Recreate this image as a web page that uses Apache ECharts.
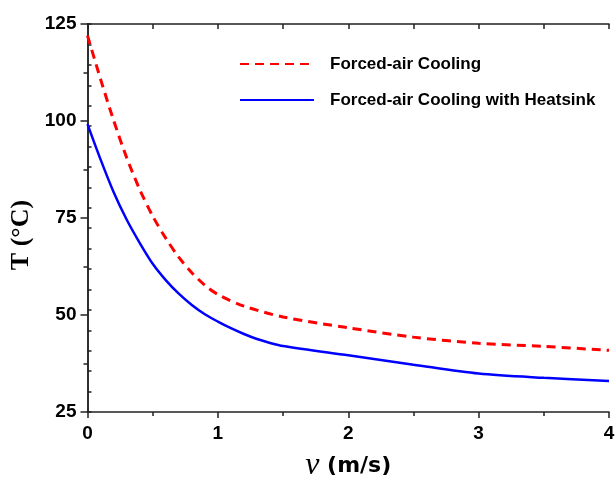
<!DOCTYPE html>
<html>
<head>
<meta charset="utf-8">
<script src="https://cdn.jsdelivr.net/npm/echarts@6/dist/echarts.min.js"></script>
<style>
html,body{margin:0;padding:0;background:#fff;}
#chart{width:615px;height:480px;}
</style>
</head>
<body>
<div id="chart"></div>
<script>
var seriesNames = ['Forced-air Cooling', 'Forced-air Cooling with Heatsink'];
var vForced = [0, 0.1, 0.2, 0.3, 0.4, 0.5, 0.6, 0.7, 0.8, 0.9, 1.0, 1.2, 1.5, 2.0, 2.5, 3.0, 3.5, 4.0];
var tForced = [122, 110.8, 100.2, 90.6, 82.4, 75.5, 69.8, 64.9, 60.9, 57.7, 55.3, 52.3, 49.5, 46.7, 44.3, 42.7, 41.9, 40.9];
var vHeatsink = [0, 0.1, 0.2, 0.3, 0.4, 0.5, 0.6, 0.7, 0.8, 0.9, 1.0, 1.1, 1.2, 1.3, 1.4, 1.5, 2.0, 2.5, 3.0, 3.5, 4.0];
var tHeatsink = [99.2, 90.1, 81.7, 74.6, 68.6, 63.2, 59.0, 55.5, 52.6, 50.2, 48.3, 46.6, 45.1, 43.8, 42.8, 42.0, 39.6, 37.2, 34.9, 33.8, 33.0];
var xTicks = [0, 1, 2, 3, 4];
var yTicks = [25, 50, 75, 100, 125];

function pairs(xs, ys) { return xs.map(function (x, i) { return [x, ys[i]]; }); }

var axisColor = '#222';
var chart = echarts.init(document.getElementById('chart'), null, {renderer: 'canvas'});
chart.setOption({
  animation: false,
  backgroundColor: '#fff',
  grid: {left: 87.5, right: 6, top: 24, bottom: 68, containLabel: false, outerBoundsMode: 'none'},
  legend: {
    orient: 'vertical',
    left: 234,
    top: 49,
    itemWidth: 74,
    itemHeight: 10,
    itemGap: 16,
    data: seriesNames,
    itemStyle: {opacity: 0},
    textStyle: {fontFamily: 'Liberation Sans', fontWeight: 'bold', fontSize: 17, lineHeight: 20, color: '#000', padding: [0, 0, 0, 11]}
  },
  xAxis: [{
    type: 'value', position: 'bottom', min: xTicks[0], max: xTicks[xTicks.length - 1], interval: 1,
    axisLine: {show: true, lineStyle: {color: axisColor, width: 1.5}},
    axisTick: {show: true, inside: false, length: 6, lineStyle: {color: axisColor, width: 1.5}},
    minorTick: {show: true, splitNumber: 2, length: 4, lineStyle: {color: axisColor, width: 1.5}},
    splitLine: {show: false},
    axisLabel: {margin: 12, color: '#000', fontFamily: 'Liberation Sans', fontWeight: 'bold', fontSize: 19},
    name: '{i|ν} (m/s)',
    nameLocation: 'middle',
    nameGap: 38,
    nameTextStyle: {
      fontFamily: 'DejaVu Sans', fontWeight: 'bold', fontSize: 22, color: '#000',
      rich: {i: {fontFamily: 'Liberation Serif', fontStyle: 'italic', fontWeight: 'normal', fontSize: 32, color: '#000'}}
    }
  }, {
    type: 'value', position: 'top', min: 0, max: 4, interval: 0.5,
    axisLine: {show: true, lineStyle: {color: axisColor, width: 1.5}},
    axisTick: {show: true, inside: true, length: 5, lineStyle: {color: axisColor, width: 1.5}},
    axisLabel: {show: false},
    splitLine: {show: false}
  }],
  yAxis: [{
    type: 'value', position: 'left', min: yTicks[0], max: yTicks[yTicks.length - 1], interval: 25,
    axisLine: {show: true, lineStyle: {color: axisColor, width: 1.5}},
    axisTick: {show: true, inside: false, length: 7, lineStyle: {color: axisColor, width: 1.5}},
    minorTick: {show: true, splitNumber: 2, length: 4, lineStyle: {color: axisColor, width: 1.5}},
    splitLine: {show: false},
    axisLabel: {margin: 11, color: '#000', fontFamily: 'Liberation Sans', fontWeight: 'bold', fontSize: 19},
    name: 'T (°C)',
    nameLocation: 'middle',
    nameRotate: 90,
    nameGap: 50,
    nameTextStyle: {fontFamily: 'Liberation Serif', fontWeight: 'bold', fontSize: 26, color: '#000', padding: [0, 34, 0, 0]}
  }, {
    type: 'value', position: 'right', min: 0, max: 19, interval: 1,
    axisLine: {show: true, lineStyle: {color: axisColor, width: 1.5}},
    axisTick: {show: true, inside: false, length: 4, lineStyle: {color: axisColor, width: 1.5}},
    axisLabel: {show: false},
    splitLine: {show: false}
  }],
  series: [{
    name: seriesNames[0], type: 'line', xAxisIndex: 0, yAxisIndex: 0,
    data: pairs(vForced, tForced), smooth: 0.3, symbol: 'none',
    lineStyle: {color: '#ff0000', width: 3, type: [9, 6]},
    itemStyle: {color: '#ff0000'}
  }, {
    name: seriesNames[1], type: 'line', xAxisIndex: 0, yAxisIndex: 0,
    data: pairs(vHeatsink, tHeatsink), smooth: 0.3, symbol: 'none',
    lineStyle: {color: '#0000ff', width: 2.5},
    itemStyle: {color: '#0000ff'}
  }]
});
</script>
</body>
</html>
